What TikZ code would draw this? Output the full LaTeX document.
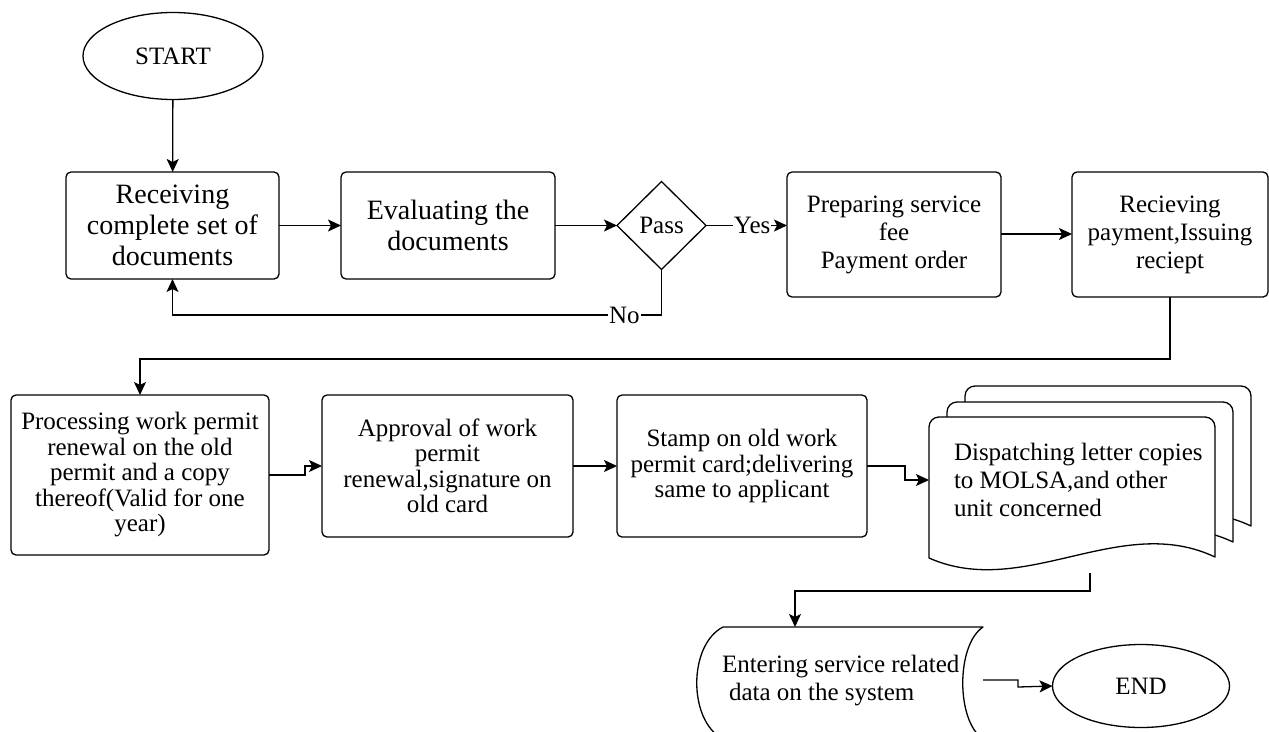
\documentclass[tikz,border=0pt]{standalone}
\usepackage{fontspec}
\setmainfont{Liberation Serif}
\usetikzlibrary{arrows.meta,shapes.geometric}
\begin{document}
\begin{tikzpicture}[x=1pt,y=-1pt,
  line width=1.3pt,
  every node/.style={inner sep=0pt, outer sep=0pt, font=\fontsize{25}{25.5}\selectfont},
  big/.style={font=\fontsize{28}{31}\selectfont},
  mid/.style={font=\fontsize{25}{28}\selectfont},
  procbox/.style={draw, rounded corners=5pt, align=center, fill=white},
  term/.style={draw, ellipse},
  arr/.style={-{Stealth[length=13pt,width=12pt,inset=3pt]}},
  lbl/.style={fill=white, inner sep=1pt},
  sheet/.style={draw, fill=white, line join=round}
]
\useasboundingbox (0,0) rectangle (1269,731);

% ---- top row ----
\node[term, minimum width=180pt, minimum height=87pt] (start) at (173,56) {START};
\node[procbox, big, minimum width=213pt, minimum height=107pt] (recv) at (172.5,225.5) {Receiving\\complete set of\\documents};
\node[procbox, big, minimum width=214pt, minimum height=107pt] (eval) at (448,225.5) {Evaluating the\\documents};
\node[draw, diamond, minimum width=89pt, minimum height=88pt] (pass) at (661.5,225.5) {Pass};
\node[procbox, mid, minimum width=214pt, minimum height=125pt] (prep) at (894,234.5) {Preparing service\\fee\\Payment order};
\node[procbox, mid, minimum width=196pt, minimum height=125pt] (pay) at (1170,234.5) {Recieving\\payment,Issuing\\reciept};

% ---- middle row ----
\node[procbox, minimum width=258pt, minimum height=160pt] (procw) at (140,475) {Processing work permit\\renewal on the old\\permit and a copy\\thereof(Valid for one\\year)};
\node[procbox, minimum width=251pt, minimum height=142pt] (appr) at (447.5,466) {Approval of work\\permit\\renewal,signature on\\old card};
\node[procbox, minimum width=250pt, minimum height=142pt] (stamp) at (742,466) {Stamp on old work\\permit card;delivering\\same to applicant};

% multi-document: three stacked sheets with wavy bottoms
\foreach \dx/\dy in {36/-31, 18/-15, 0/0} {
  \draw[sheet, shift={(\dx,\dy)}]
    (929,558) -- (929,440) [rounded corners=10pt] -- (929,417) -- (1215,417) -- (1215,440)
    [sharp corners] -- (1215,557) .. controls (1120,512) and (1024,600) .. (929,558) -- cycle;
}
\node[minimum width=286pt, minimum height=126pt] (doc) at (1072,480) {};
\node[mid, anchor=west, align=left] (doctext) at (954,480) {Dispatching letter copies\\to MOLSA,and other\\unit concerned};
\coordinate (docbot) at (1090,573);

% ---- bottom row ----
\draw[sheet] (723,627) -- (983,627) .. controls (956,645) and (956,721) .. (983,739)
  -- (723,739) .. controls (688,721) and (688,645) .. (723,627) -- cycle;
\node[minimum width=260pt, minimum height=112pt] (data) at (853,683) {};
\node[mid, anchor=west, align=left] (datatext) at (722,681) {Entering service related\\\hspace*{7pt}data on the system};
\node[term, minimum width=177pt, minimum height=83pt] (endn) at (1141,686) {END};

% ---- connectors ----
\draw[arr] (start) -- (recv);
\draw[arr] (recv) -- (eval);
\draw[arr] (eval) -- (pass);
\draw[arr] (pass.east) -- node[lbl, pos=0.57] {Yes} (prep.west |- pass.east);
\draw[arr] (pass.south) -- (pass.south |- 0,315) -- node[lbl, pos=0.076] {No} (recv.south |- 0,315) -- (recv.south);
\draw[arr] (prep.east |- 0,234) -- (pay.west |- 0,234);
\draw[arr] (pay.south) -- (pay.south |- 0,359) -- (procw.north |- 0,359) -- (procw.north);
\draw[arr] (procw.east) -- (305,475) -- (305,466) -- (appr.west);
\draw[arr] (appr) -- (stamp);
\draw[arr] (stamp.east) -- (905,466) -- (905,480) -- (doc.west);
\draw[arr] (docbot) -- (1090,591) -- (795,591) -- (data.north -| 795,0);
\draw[arr] (data.east |- 0,680) -- (1018,680) -- (1018,687) -- (endn.west);
\end{tikzpicture}
\end{document}
